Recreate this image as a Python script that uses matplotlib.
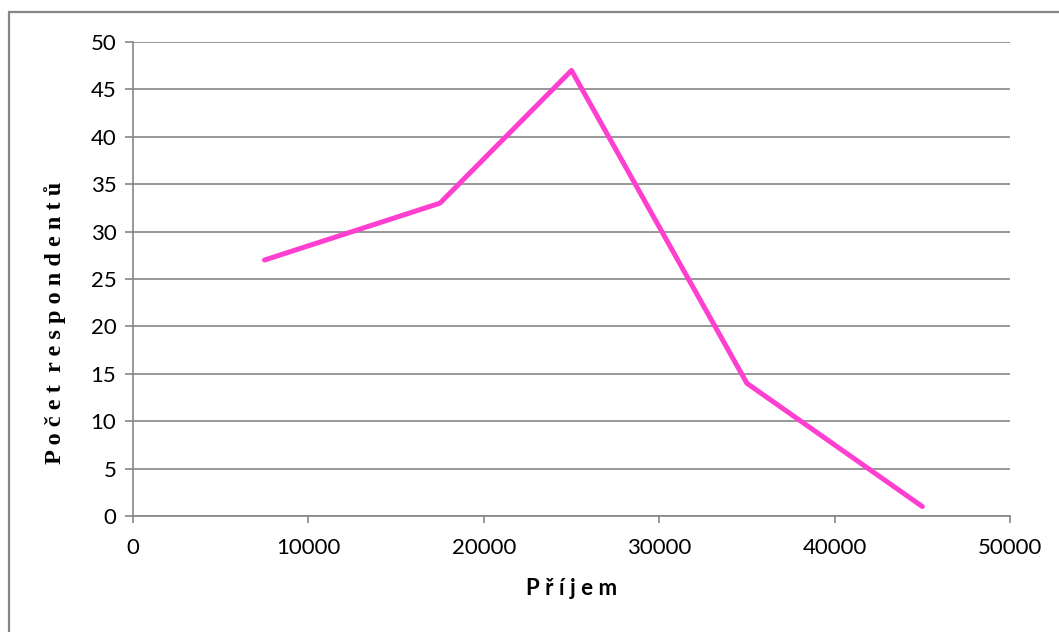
import matplotlib
matplotlib.use("Agg")
import matplotlib.pyplot as plt
from matplotlib.patches import Rectangle

# data
prijem = [7500, 17500, 25000, 35000, 45000]
pocet = [27, 33, 47, 14, 1]
x_ticks = [0, 10000, 20000, 30000, 40000, 50000]
y_ticks = list(range(0, 51, 5))

grey = '#868686'

fig = plt.figure(figsize=(10.59, 6.32), dpi=100)
ax = fig.add_axes([133 / 1059, 1 - 516 / 632, (1010 - 133) / 1059, (516 - 42) / 632])

# outer chart border (only left and top edges visible)
fig.patches.append(Rectangle((9 / 1059, -0.1), 1.2, 1 - 12 / 632 + 0.1,
                             transform=fig.transFigure, fill=False,
                             edgecolor=grey, linewidth=1.6))

ax.plot(prijem, pocet, color='#FF3FCF', linewidth=3.6,
        solid_capstyle='round', solid_joinstyle='round', zorder=3)

ax.set_xlim(0, 50000)
ax.set_ylim(0, 50)
ax.set_xticks(x_ticks)
ax.set_yticks(y_ticks)
ax.set_xticklabels([str(v) for v in x_ticks], family='Lato', fontsize=16)
ax.set_yticklabels([str(v) for v in y_ticks], family='Lato', fontsize=16)

ax.grid(axis='y', color=grey, linewidth=1.2)
ax.set_axisbelow(True)
for side in ['top', 'right']:
    ax.spines[side].set_visible(False)
for side in ['left', 'bottom']:
    ax.spines[side].set_color(grey)
    ax.spines[side].set_linewidth(1.2)
ax.tick_params(axis='y', length=6, width=1.2, color=grey, pad=6)
ax.tick_params(axis='x', length=5, width=1.2, color=grey, pad=11)

ax.set_xlabel('P ř í j e m', family='Lato', fontweight='bold', fontsize=16, labelpad=14)
fig.text(55 / 1059, 1 - 323 / 632, 'P o č e t  r e s p o n d e n t ů',
         family='Liberation Serif', fontweight='bold', fontsize=17.5,
         rotation=90, ha='center', va='center')

fig.savefig('out.png', dpi=100)
